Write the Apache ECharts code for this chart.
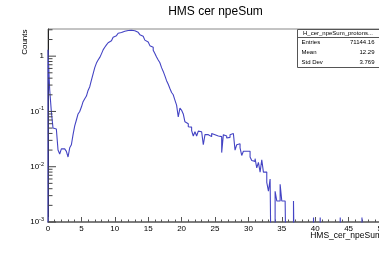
<!DOCTYPE html>
<html>
<head>
<meta charset="utf-8">
<title>HMS cer npeSum</title>
<script src="https://cdn.jsdelivr.net/npm/echarts@6/dist/echarts.min.js"></script>
<style>
  html, body { margin: 0; padding: 0; background: #ffffff; }
  #chart { width: 379px; height: 278px; }
</style>
</head>
<body>
<div id="chart"></div>
<script>
// histogram: 200 bins of 0.25 from 0 to 50 (bin contents, 0 = empty bin)
const binStart = 0
const binWidth = 0.25
const counts = [
  1.3, 0.25, 0.1, 0.05, 0.048, 0.045, 0.02, 0.017, 0.021, 0.021,
  0.022, 0.019, 0.015, 0.022, 0.025, 0.038, 0.055, 0.07, 0.09, 0.1,
  0.12, 0.15, 0.17, 0.19, 0.24, 0.28, 0.37, 0.48, 0.62, 0.75,
  0.85, 0.95, 1.1, 1.3, 1.45, 1.6, 1.75, 1.9, 2.05, 2.2,
  2.35, 2.48, 2.6, 2.68, 2.76, 2.82, 2.88, 2.92, 2.94, 2.95,
  2.92, 2.88, 2.8, 2.7, 2.6, 2.45, 2.3, 2.12, 1.95, 1.8,
  1.7, 1.55, 1.45, 1.28, 1.12, 0.97, 0.85, 0.76, 0.62, 0.53,
  0.44, 0.36, 0.31, 0.26, 0.22, 0.2, 0.16, 0.13, 0.08, 0.115,
  0.105, 0.09, 0.065, 0.06, 0.053, 0.052, 0.045, 0.036, 0.043, 0.036,
  0.044, 0.043, 0.045, 0.025, 0.038, 0.038, 0.04, 0.035, 0.04, 0.038,
  0.035, 0.036, 0.035, 0.035, 0.018, 0.038, 0.036, 0.033, 0.034, 0.038,
  0.04, 0.04, 0.02, 0.025, 0.026, 0.022, 0.016, 0.019, 0.019, 0.02,
  0.019, 0.015, 0.013, 0.0125, 0.014, 0.0095, 0.012, 0.008, 0.0133, 0.008,
  0.008, 0.0052, 0.0036, 0.006, 0, 0, 0.0036, 0.0024, 0.0024, 0.0048,
  0.0024, 0.0024, 0.0024, 0, 0, 0, 0, 0.0024, 0, 0,
  0, 0, 0, 0, 0, 0, 0, 0, 0, 0.0012,
  0, 0, 0, 0.0012, 0, 0, 0, 0, 0, 0,
  0, 0, 0, 0, 0, 0.0012, 0, 0, 0, 0,
  0, 0, 0, 0, 0, 0, 0, 0, 0.0012, 0,
  0, 0, 0, 0, 0, 0, 0, 0, 0, 0
]

const xMin = 0
const xMax = 50
const yMin = 0.001
const yMax = 3.1

// log axis ticks, decades long, 2..9 short
const yMajorTicks = [0.001, 0.01, 0.1, 1]
const yMinorTicks = [
  0.002, 0.003, 0.004, 0.005, 0.006, 0.007, 0.008, 0.009,
  0.02, 0.03, 0.04, 0.05, 0.06, 0.07, 0.08, 0.09,
  0.2, 0.3, 0.4, 0.5, 0.6, 0.7, 0.8, 0.9,
  2, 3
]

const titleText = 'HMS cer npeSum'
const xTitle = 'HMS_cer_npeSum'
const yTitle = 'Counts'
const statsTitle = 'H_cer_npeSum_protons...'
const statNames = ['Entries', 'Mean', 'Std Dev']
const statValues = ['71144.16', '12.29', '3.769']

const font = 'Liberation Sans, Arial, Helvetica, sans-serif'
const lineColor = '#4444c4'
const emptyLevel = 1e-5 // empty bins fall below the frame and get clipped

let histData = [[binStart, emptyLevel]]
counts.forEach((c, i) => {
  histData.push([binStart + i * binWidth, c > 0 ? c : emptyLevel])
})
histData.push([binStart + counts.length * binWidth, emptyLevel])

function powLabel(v) {
  let e = Math.round(Math.log10(v))
  if (Math.abs(Math.log10(v) - e) > 1e-6) return ''
  if (e === 0) return '{b|1}'
  return '{b|10}{s|' + e + '}'
}

let tickData = yMajorTicks.map(v => [xMin, v, 1]).concat(yMinorTicks.map(v => [xMin, v, 0]))

let graphics = [
  {
    type: 'text', x: 215.5, y: 11.5,
    style: { text: titleText, font: '12px ' + font, fill: '#000', align: 'center', verticalAlign: 'middle' }
  },
  {
    type: 'text', x: 24.5, y: 29.5, rotation: Math.PI / 2,
    style: { text: yTitle, font: '8px ' + font, fill: '#000', align: 'right', verticalAlign: 'middle' }
  },
  {
    type: 'text', x: 382, y: 236,
    style: { text: xTitle, font: '8.5px ' + font, fill: '#000', align: 'right', verticalAlign: 'middle' }
  },
  // stats box
  {
    type: 'rect', shape: { x: 297.5, y: 29.5, width: 84, height: 38 },
    style: { fill: '#fff', stroke: '#555', lineWidth: 1 }, z: 10
  },
  {
    type: 'line', shape: { x1: 297.5, y1: 37.5, x2: 381.5, y2: 37.5 },
    style: { stroke: '#555', lineWidth: 1 }, z: 11
  },
  {
    type: 'text', x: 338, y: 33.5, z: 11,
    style: { text: statsTitle, font: '6px ' + font, fill: '#000', align: 'center', verticalAlign: 'middle' }
  }
]
statNames.forEach((name, i) => {
  let y = 42.7 + i * 9.8
  graphics.push({
    type: 'text', x: 301.5, y: y, z: 11,
    style: { text: name, font: '6px ' + font, fill: '#000', align: 'left', verticalAlign: 'middle' }
  })
  graphics.push({
    type: 'text', x: 374.5, y: y, z: 11,
    style: { text: statValues[i], font: '6px ' + font, fill: '#000', align: 'right', verticalAlign: 'middle' }
  })
})

const chart = echarts.init(document.getElementById('chart'), null, { renderer: 'canvas' })

chart.setOption({
  animation: false,
  backgroundColor: '#fff',
  grid: {
    left: 48, top: 29, right: -3, bottom: 56,
    show: true, borderColor: '#888', borderWidth: 1,
    outerBoundsMode: 'none'
  },
  xAxis: {
    type: 'value', min: xMin, max: xMax, interval: 5,
    axisLine: { onZero: false, lineStyle: { color: '#666', width: 1.5 } },
    axisTick: { inside: true, length: 5, lineStyle: { color: '#555' } },
    minorTick: { show: true, splitNumber: 5, length: 2.5, lineStyle: { color: '#555' } },
    splitLine: { show: false },
    axisLabel: { margin: 3, fontSize: 8, color: '#000', fontFamily: font, hideOverlap: false }
  },
  yAxis: {
    type: 'log', logBase: 10, min: yMin, max: yMax,
    axisLine: { show: true, lineStyle: { color: '#222', width: 1 } },
    axisTick: { show: false },
    splitLine: { show: false },
    axisLabel: {
      margin: 4, color: '#000', fontFamily: font,
      formatter: powLabel,
      rich: {
        b: { fontSize: 8, fontFamily: font, color: '#000' },
        s: { fontSize: 5.5, fontFamily: font, color: '#000', padding: [0, 0, 5, 0] }
      }
    }
  },
  graphic: graphics,
  series: [
    {
      type: 'line',
      data: histData,
      step: 'end',
      symbol: 'none',
      clip: true,
      silent: true,
      lineStyle: { color: lineColor, width: 1.1 },
      z: 2
    },
    {
      // y-axis ticks placed through the log scale
      type: 'custom',
      data: tickData,
      silent: true,
      clip: false,
      z: 3,
      renderItem: function (params, api) {
        let p = api.coord([api.value(0), api.value(1)])
        let len = api.value(2) ? 8 : 4.5
        return {
          type: 'line',
          shape: { x1: p[0], y1: p[1], x2: p[0] + len, y2: p[1] },
          style: { stroke: '#444', lineWidth: 1 }
        }
      }
    }
  ]
})
</script>
</body>
</html>
